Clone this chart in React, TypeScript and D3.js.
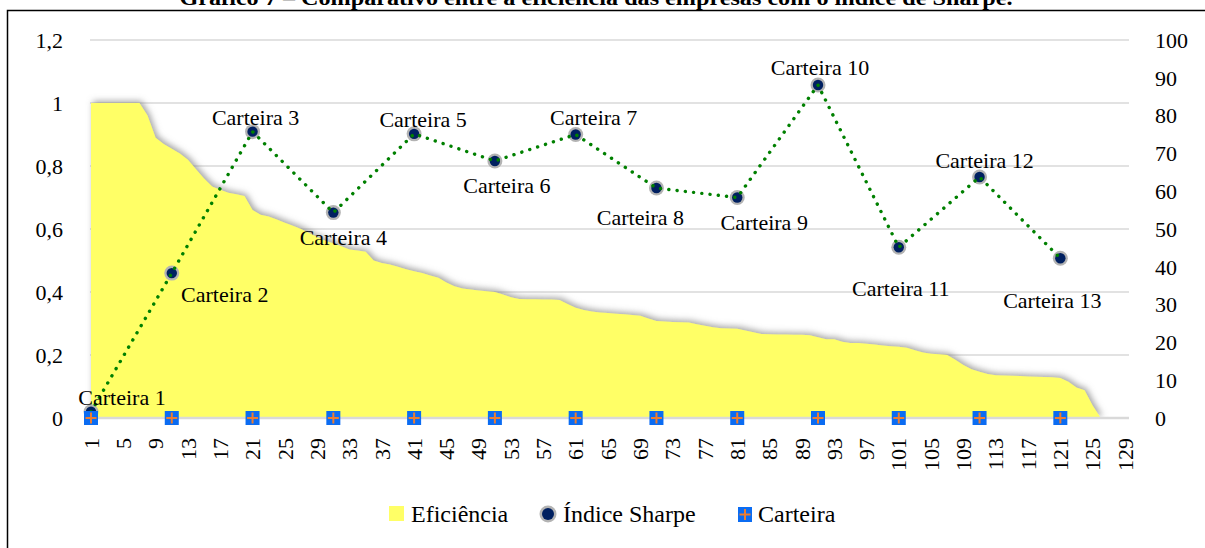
import React from 'react';
import * as d3 from 'd3';

const TITLE = 'Gráfico 7 – Comparativo entre a eficiência das empresas com o índice de Sharpe.';

// Efficiency of each company (ranked), categories 1..126
const efficiency: number[] = [
  1.0, 1.0, 1.0, 1.0, 1.0, 1.0, 1.0, 0.96, 0.89, 0.87,
  0.855, 0.84, 0.82, 0.79, 0.76, 0.735, 0.725, 0.715, 0.71, 0.705,
  0.66, 0.645, 0.64, 0.63, 0.62, 0.61, 0.6, 0.587, 0.575, 0.563,
  0.555, 0.545, 0.535, 0.532, 0.528, 0.5, 0.492, 0.487, 0.48, 0.472,
  0.466, 0.46, 0.452, 0.445, 0.43, 0.418, 0.411, 0.408, 0.405, 0.402,
  0.4, 0.392, 0.383, 0.378, 0.377, 0.377, 0.376, 0.376, 0.375, 0.362,
  0.35, 0.343, 0.338, 0.335, 0.333, 0.331, 0.329, 0.327, 0.325, 0.316,
  0.308, 0.306, 0.305, 0.304, 0.303, 0.298, 0.293, 0.288, 0.285, 0.284,
  0.283, 0.278, 0.272, 0.267, 0.266, 0.265, 0.265, 0.264, 0.264, 0.263,
  0.256, 0.25, 0.25, 0.242, 0.238, 0.238, 0.236, 0.233, 0.23, 0.228,
  0.226, 0.223, 0.215, 0.208, 0.204, 0.202, 0.2, 0.185, 0.168, 0.155,
  0.147, 0.14, 0.136, 0.135, 0.134, 0.133, 0.132, 0.131, 0.13, 0.129,
  0.127, 0.115, 0.097, 0.088, 0.04, 0.0,
];

const portfolioIndex: number[] = [1, 11, 21, 31, 41, 51, 61, 71, 81, 91, 101, 111, 121];
const sharpe: number[] = [0.02, 0.46, 0.909, 0.652, 0.902, 0.816, 0.9, 0.73, 0.7, 1.057, 0.542, 0.765, 0.507];
const portfolioLabels: string[] = [
  'Carteira 1', 'Carteira 2', 'Carteira 3', 'Carteira 4', 'Carteira 5', 'Carteira 6', 'Carteira 7',
  'Carteira 8', 'Carteira 9', 'Carteira 10', 'Carteira 11', 'Carteira 12', 'Carteira 13',
];
const portfolioMarker: number[] = [0, 0, 0, 0, 0, 0, 0, 0, 0, 0, 0, 0, 0];

const leftTicks: number[] = [0, 0.2, 0.4, 0.6, 0.8, 1, 1.2];
const leftTickLabels: string[] = ['0', '0,2', '0,4', '0,6', '0,8', '1', '1,2'];
const rightTicks: number[] = [0, 10, 20, 30, 40, 50, 60, 70, 80, 90, 100];
const xTickLabels: number[] = [
  1, 5, 9, 13, 17, 21, 25, 29, 33, 37, 41, 45, 49, 53, 57, 61, 65,
  69, 73, 77, 81, 85, 89, 93, 97, 101, 105, 109, 113, 117, 121, 125, 129,
];
const legendLabels: string[] = ['Eficiência', 'Índice Sharpe', 'Carteira'];

// label placement (dx of text centre, dy of baseline) relative to each point
const labelOffsets: [number, number][] = [
  [31, -7], [53, 29], [3, -7], [10, 32], [9, -7], [12, 32], [18, -10],
  [-16, 37], [27, 32], [2, -10], [2, 49], [5, -9], [-8, 50],
];

const W = 1205;
const H = 548;
const FONT = "'Liberation Serif', 'Times New Roman', serif";

export default function App() {
  const x = d3.scaleLinear().domain([1, 129.5]).range([91, 1129]);
  const y = d3.scaleLinear().domain([0, 1.2]).range([418, 40]);
  const y2 = d3.scaleLinear().domain([0, 100]).range([418, 40]);

  const areaGen = d3
    .area<number>()
    .x((_, i) => x(i + 1))
    .y0(y(0))
    .y1((d) => y(d));

  const lineGen = d3
    .line<number>()
    .x((_, i) => x(portfolioIndex[i]))
    .y((d) => y(d));

  const legendY = 514;

  return (
    <div style={{ position: 'absolute', left: 0, top: 0 }}>
      <svg width={W} height={H} style={{ display: 'block', background: '#fff' }} fontFamily={FONT}>
        <defs>
          <filter id="glow" x="-5%" y="-10%" width="110%" height="125%">
            <feGaussianBlur in="SourceAlpha" stdDeviation="3" />
            <feOffset dx="2" dy="-2" result="o" />
            <feFlood floodColor="#7f7f7f" floodOpacity="0.7" />
            <feComposite in2="o" operator="in" />
            <feMerge>
              <feMergeNode />
              <feMergeNode in="SourceGraphic" />
            </feMerge>
          </filter>
          <clipPath id="plotClip">
            <rect x={0} y={0} width={W} height={419} />
          </clipPath>
        </defs>

        {/* title (partly cut at top, as in the source) */}
        <text
          x={596}
          y={5}
          textAnchor="middle"
          fontWeight="bold"
          fontSize={20}
          textLength={833}
          lengthAdjust="spacingAndGlyphs"
        >
          {TITLE}
        </text>

        {/* chart box */}
        <rect x={7.5} y={10.5} width={1300} height={700} fill="none" stroke="#000" strokeWidth={1.5} />

        {/* gridlines */}
        {leftTicks.slice(1).map((t) => (
          <line key={'g' + t} x1={90} x2={1129} y1={y(t)} y2={y(t)} stroke="#d9d9d9" strokeWidth={1.3} />
        ))}

        {/* efficiency area */}
        <g clipPath="url(#plotClip)">
          <path d={areaGen(efficiency) || ''} fill="#ffff66" filter="url(#glow)" />
        </g>

        {/* x axis line */}
        <line x1={90} x2={1129} y1={y(0)} y2={y(0)} stroke="#d9d9d9" strokeWidth={2.5} />

        {/* left axis labels */}
        {leftTicks.map((t, i) => (
          <text key={'l' + t} x={63} y={y(t)} dy="0.35em" textAnchor="end" fontSize={22} fill="#000">
            {leftTickLabels[i]}
          </text>
        ))}

        {/* right axis labels */}
        {rightTicks.map((t) => (
          <text key={'r' + t} x={1155} y={y2(t)} dy="0.35em" textAnchor="start" fontSize={22} fill="#000">
            {t}
          </text>
        ))}

        {/* x tick labels */}
        {xTickLabels.map((t) => (
          <text
            key={'x' + t}
            transform={`translate(${x(t)},438) rotate(-90)`}
            dy="0.35em"
            textAnchor="end"
            fontSize={22}
            fill="#000"
          >
            {t}
          </text>
        ))}

        {/* sharpe markers */}
        {sharpe.map((v, i) => (
          <g key={'c' + i} transform={`translate(${x(portfolioIndex[i])},${y(v)})`}>
            <circle r={7.5} fill="#b3b3b3" />
            <circle r={5.2} fill="#002060" />
          </g>
        ))}

        {/* sharpe dotted line */}
        <path
          d={lineGen(sharpe) || ''}
          fill="none"
          stroke="#008000"
          strokeWidth={3.4}
          strokeLinecap="round"
          strokeDasharray="0.1 8.2"
        />

        {/* carteira square markers */}
        {portfolioMarker.map((v, i) => {
          const cx = x(portfolioIndex[i]);
          const cy = y(v);
          return (
            <g key={'sq' + i} transform={`translate(${cx},${cy})`}>
              <rect x={-7} y={-7} width={14} height={14} fill="#0b6cf2" />
              <line x1={-5.5} x2={5.5} y1={0} y2={0} stroke="#ed7d31" strokeWidth={2} />
              <line x1={0} x2={0} y1={-5.5} y2={5.5} stroke="#ed7d31" strokeWidth={2} />
            </g>
          );
        })}

        {/* data labels */}
        {sharpe.map((v, i) => (
          <text
            key={'t' + i}
            x={x(portfolioIndex[i]) + labelOffsets[i][0]}
            y={y(v) + labelOffsets[i][1]}
            textAnchor="middle"
            fontSize={22}
            fill="#000"
          >
            {portfolioLabels[i]}
          </text>
        ))}

        {/* legend */}
        <rect x={389} y={506} width={15} height={15} fill="#ffff66" />
        <text x={411} y={522} fontSize={24} fill="#000">{legendLabels[0]}</text>
        <circle cx={548} cy={legendY} r={8.5} fill="#b3b3b3" />
        <circle cx={548} cy={legendY} r={6} fill="#002060" />
        <text x={563} y={522} fontSize={24} fill="#000">{legendLabels[1]}</text>
        <g transform={`translate(745,${legendY + 0.5})`}>
          <rect x={-7} y={-7.5} width={14} height={15} fill="#0b6cf2" />
          <line x1={-5.5} x2={5.5} y1={0} y2={0} stroke="#ed7d31" strokeWidth={2} />
          <line x1={0} x2={0} y1={-5.5} y2={5.5} stroke="#ed7d31" strokeWidth={2} />
        </g>
        <text x={758} y={522} fontSize={24} fill="#000">{legendLabels[2]}</text>
      </svg>
    </div>
  );
}
